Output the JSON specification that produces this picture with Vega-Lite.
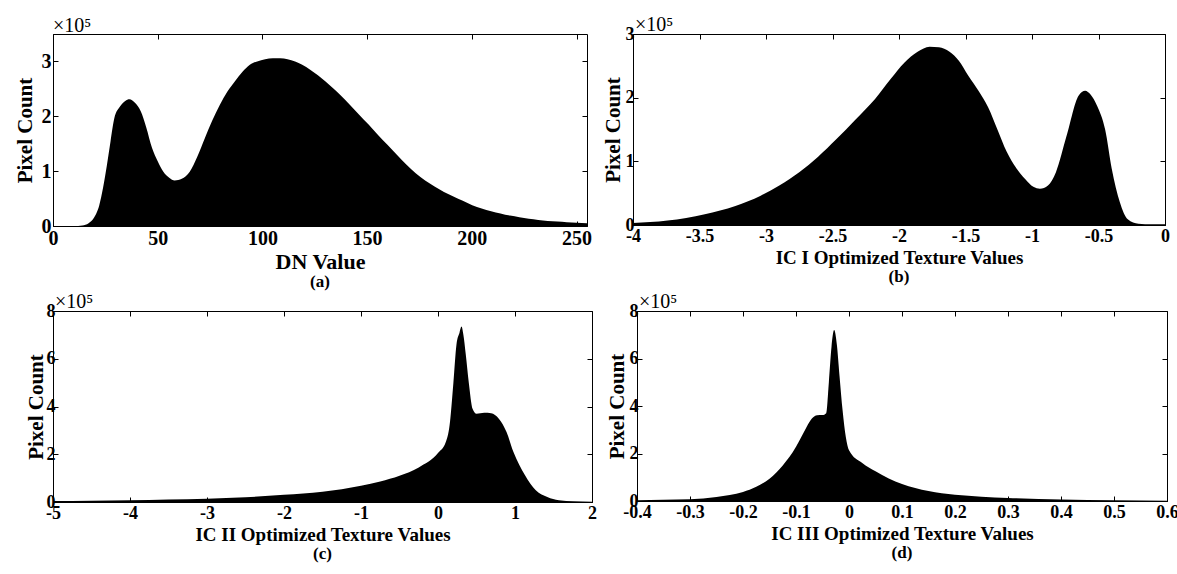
{
  "$schema": "https://vega.github.io/schema/vega-lite/v6.json",
  "background": "white",
  "padding": {"left": 13, "top": 14, "right": 0, "bottom": 0},
  "datasets": {
    "a": [
      {"x": 0, "y": 0}, {"x": 10, "y": 0}, {"x": 14, "y": 0.01}, {"x": 17, "y": 0.05}, {"x": 19.4, "y": 0.14},
      {"x": 22.1, "y": 0.38}, {"x": 25.7, "y": 1.1}, {"x": 27.5, "y": 1.55}, {"x": 29.3, "y": 1.97}, {"x": 32, "y": 2.18},
      {"x": 34.5, "y": 2.28}, {"x": 36.5, "y": 2.31}, {"x": 39, "y": 2.25}, {"x": 41.9, "y": 2.09}, {"x": 44.5, "y": 1.8},
      {"x": 47.3, "y": 1.42}, {"x": 50, "y": 1.18}, {"x": 52.7, "y": 0.99}, {"x": 55.5, "y": 0.88}, {"x": 58.1, "y": 0.83},
      {"x": 61.5, "y": 0.86}, {"x": 65.3, "y": 0.99}, {"x": 69, "y": 1.27}, {"x": 72.5, "y": 1.6}, {"x": 76, "y": 1.92},
      {"x": 79.7, "y": 2.21}, {"x": 83.3, "y": 2.45}, {"x": 86.9, "y": 2.64}, {"x": 90.5, "y": 2.81}, {"x": 94, "y": 2.94},
      {"x": 97.5, "y": 3.0}, {"x": 101.3, "y": 3.04}, {"x": 105, "y": 3.06}, {"x": 108.5, "y": 3.06}, {"x": 112, "y": 3.04},
      {"x": 115.6, "y": 3.0}, {"x": 119, "y": 2.94}, {"x": 122.8, "y": 2.85}, {"x": 126.5, "y": 2.75}, {"x": 130, "y": 2.64},
      {"x": 133.5, "y": 2.52}, {"x": 137.2, "y": 2.39}, {"x": 141.5, "y": 2.22}, {"x": 146.2, "y": 2.03}, {"x": 150.7, "y": 1.85},
      {"x": 155.2, "y": 1.66}, {"x": 159.7, "y": 1.48}, {"x": 164.2, "y": 1.3}, {"x": 168.7, "y": 1.12}, {"x": 173.2, "y": 0.96},
      {"x": 177.7, "y": 0.83}, {"x": 182.2, "y": 0.72}, {"x": 186.7, "y": 0.62}, {"x": 191.2, "y": 0.54}, {"x": 195.7, "y": 0.46},
      {"x": 200.2, "y": 0.38}, {"x": 204.7, "y": 0.32}, {"x": 209.2, "y": 0.27}, {"x": 213.7, "y": 0.23}, {"x": 218.2, "y": 0.19},
      {"x": 222.7, "y": 0.16}, {"x": 227.2, "y": 0.13}, {"x": 231.7, "y": 0.11}, {"x": 236.2, "y": 0.09}, {"x": 240.8, "y": 0.08},
      {"x": 245.3, "y": 0.07}, {"x": 250, "y": 0.06}, {"x": 255, "y": 0.05}
    ],
    "b": [
      {"x": -4, "y": 0.03}, {"x": -3.74, "y": 0.07}, {"x": -3.46, "y": 0.17}, {"x": -3.23, "y": 0.3}, {"x": -3.04, "y": 0.46},
      {"x": -2.9, "y": 0.62}, {"x": -2.75, "y": 0.83}, {"x": -2.61, "y": 1.07}, {"x": -2.47, "y": 1.35}, {"x": -2.33, "y": 1.65},
      {"x": -2.18, "y": 1.98}, {"x": -2.06, "y": 2.3}, {"x": -1.96, "y": 2.55}, {"x": -1.86, "y": 2.72}, {"x": -1.77, "y": 2.8},
      {"x": -1.7, "y": 2.79}, {"x": -1.62, "y": 2.72}, {"x": -1.55, "y": 2.58}, {"x": -1.48, "y": 2.35}, {"x": -1.4, "y": 2.1},
      {"x": -1.33, "y": 1.85}, {"x": -1.26, "y": 1.5}, {"x": -1.19, "y": 1.15}, {"x": -1.12, "y": 0.9}, {"x": -1.05, "y": 0.72},
      {"x": -0.99, "y": 0.6}, {"x": -0.94, "y": 0.57}, {"x": -0.88, "y": 0.62}, {"x": -0.82, "y": 0.83}, {"x": -0.74, "y": 1.4},
      {"x": -0.65, "y": 2.03}, {"x": -0.6, "y": 2.11}, {"x": -0.56, "y": 2.05}, {"x": -0.51, "y": 1.87}, {"x": -0.45, "y": 1.5},
      {"x": -0.4, "y": 0.88}, {"x": -0.34, "y": 0.36}, {"x": -0.28, "y": 0.09}, {"x": -0.2, "y": 0.02}, {"x": -0.1, "y": 0.01},
      {"x": 0, "y": 0.01}
    ],
    "c": [
      {"x": -5, "y": 0.04}, {"x": -4.5, "y": 0.05}, {"x": -4, "y": 0.07}, {"x": -3.5, "y": 0.1}, {"x": -3, "y": 0.14},
      {"x": -2.5, "y": 0.2}, {"x": -2, "y": 0.3}, {"x": -1.5, "y": 0.43}, {"x": -1, "y": 0.68}, {"x": -0.75, "y": 0.86},
      {"x": -0.5, "y": 1.1}, {"x": -0.25, "y": 1.45}, {"x": 0, "y": 2.05}, {"x": 0.1, "y": 2.5}, {"x": 0.15, "y": 3.2},
      {"x": 0.2, "y": 5.0}, {"x": 0.24, "y": 6.6}, {"x": 0.28, "y": 7.1}, {"x": 0.305, "y": 7.35}, {"x": 0.33, "y": 7.0},
      {"x": 0.36, "y": 6.2}, {"x": 0.4, "y": 5.0}, {"x": 0.45, "y": 3.9}, {"x": 0.5, "y": 3.7}, {"x": 0.6, "y": 3.74},
      {"x": 0.69, "y": 3.72}, {"x": 0.79, "y": 3.49}, {"x": 0.89, "y": 2.93}, {"x": 0.98, "y": 2.09}, {"x": 1.13, "y": 1.12},
      {"x": 1.27, "y": 0.49}, {"x": 1.42, "y": 0.21}, {"x": 1.57, "y": 0.07}, {"x": 1.76, "y": 0.03}, {"x": 2, "y": 0.01}
    ],
    "d": [
      {"x": -0.4, "y": 0.03}, {"x": -0.35, "y": 0.05}, {"x": -0.3, "y": 0.07}, {"x": -0.25, "y": 0.17}, {"x": -0.2, "y": 0.38},
      {"x": -0.175, "y": 0.6}, {"x": -0.15, "y": 0.94}, {"x": -0.125, "y": 1.5}, {"x": -0.1, "y": 2.28}, {"x": -0.09, "y": 2.7},
      {"x": -0.08, "y": 3.12}, {"x": -0.07, "y": 3.47}, {"x": -0.06, "y": 3.61}, {"x": -0.05, "y": 3.62}, {"x": -0.043, "y": 3.7},
      {"x": -0.038, "y": 5.0}, {"x": -0.033, "y": 6.5}, {"x": -0.028, "y": 7.2}, {"x": -0.023, "y": 6.6}, {"x": -0.018, "y": 5.3},
      {"x": -0.012, "y": 3.8}, {"x": -0.006, "y": 2.7}, {"x": 0, "y": 2.14}, {"x": 0.025, "y": 1.6}, {"x": 0.05, "y": 1.25},
      {"x": 0.075, "y": 0.95}, {"x": 0.1, "y": 0.72}, {"x": 0.15, "y": 0.42}, {"x": 0.2, "y": 0.26}, {"x": 0.25, "y": 0.18},
      {"x": 0.3, "y": 0.13}, {"x": 0.4, "y": 0.06}, {"x": 0.5, "y": 0.03}, {"x": 0.6, "y": 0.01}
    ],
    "mult": [{"t": "×10⁵"}]
  },
  "vconcat": [
    {
      "hconcat": [
        {
          "width": 534, "height": 192,
          "title": {"text": "(a)", "orient": "bottom", "fontSize": 17, "fontWeight": "bold", "font": "Liberation Serif", "offset": 2},
          "layer": [
            {"data": {"name": "a"}, "mark": {"type": "area", "color": "black", "interpolate": "monotone"},
             "encoding": {
               "x": {"field": "x", "type": "quantitative", "scale": {"domain": [0, 255], "nice": false, "zero": false},
                     "axis": {"orient": "bottom", "values": [0, 50, 100, 150, 200, 250], "title": "DN Value", "labelFontSize": 20, "titleFontSize": 22}},
               "y": {"field": "y", "type": "quantitative", "scale": {"domain": [0, 3.5], "nice": false},
                     "axis": {"orient": "left", "values": [0, 1, 2, 3], "title": "Pixel Count", "labelFontSize": 20, "titleFontSize": 21, "titlePadding": 6}}}},
            {"data": {"name": "a"}, "mark": {"type": "point", "opacity": 0},
             "encoding": {
               "x": {"field": "x", "type": "quantitative", "axis": {"orient": "top", "values": [0, 50, 100, 150, 200, 250], "labels": false, "title": null, "domain": false}},
               "y": {"field": "y", "type": "quantitative", "axis": {"orient": "right", "values": [0, 1, 2, 3], "labels": false, "title": null, "domain": false}}}},
            {"data": {"name": "mult"}, "mark": {"type": "text", "align": "left", "baseline": "alphabetic", "dy": -2, "fontSize": 20, "font": "Liberation Serif"},
             "encoding": {"x": {"datum": 0, "type": "quantitative", "axis": null}, "y": {"datum": 3.5, "type": "quantitative", "axis": null}, "text": {"field": "t"}}}
          ],
          "resolve": {"axis": {"x": "independent", "y": "independent"}}
        },
        {
          "width": 532, "height": 191,
          "title": {"text": "(b)", "orient": "bottom", "fontSize": 17, "fontWeight": "bold", "font": "Liberation Serif", "offset": 2},
          "layer": [
            {"data": {"name": "b"}, "mark": {"type": "area", "color": "black", "interpolate": "monotone"},
             "encoding": {
               "x": {"field": "x", "type": "quantitative", "scale": {"domain": [-4, 0], "nice": false, "zero": false},
                     "axis": {"orient": "bottom", "values": [-4, -3.5, -3, -2.5, -2, -1.5, -1, -0.5, 0], "title": "IC I Optimized Texture Values", "labelFontSize": 18, "titleFontSize": 19}},
               "y": {"field": "y", "type": "quantitative", "scale": {"domain": [0, 3], "nice": false},
                     "axis": {"orient": "left", "values": [0, 1, 2, 3], "title": "Pixel Count", "labelFontSize": 18, "titleFontSize": 21, "titlePadding": 2, "labelPadding": 4}}}},
            {"data": {"name": "b"}, "mark": {"type": "point", "opacity": 0},
             "encoding": {
               "x": {"field": "x", "type": "quantitative", "axis": {"orient": "top", "values": [-4, -3.5, -3, -2.5, -2, -1.5, -1, -0.5, 0], "labels": false, "title": null, "domain": false}},
               "y": {"field": "y", "type": "quantitative", "axis": {"orient": "right", "values": [0, 1, 2, 3], "labels": false, "title": null, "domain": false}}}},
            {"data": {"name": "mult"}, "mark": {"type": "text", "align": "left", "baseline": "alphabetic", "dy": -3, "dx": 2, "fontSize": 20, "font": "Liberation Serif"},
             "encoding": {"x": {"datum": -4, "type": "quantitative", "axis": null}, "y": {"datum": 3, "type": "quantitative", "axis": null}, "text": {"field": "t"}}}
          ],
          "resolve": {"axis": {"x": "independent", "y": "independent"}}
        }
      ]
    },
    {
      "hconcat": [
        {
          "width": 539, "height": 191,
          "title": {"text": "(c)", "orient": "bottom", "fontSize": 17, "fontWeight": "bold", "font": "Liberation Serif", "offset": 2},
          "layer": [
            {"data": {"name": "c"}, "mark": {"type": "area", "color": "black", "interpolate": "monotone"},
             "encoding": {
               "x": {"field": "x", "type": "quantitative", "scale": {"domain": [-5, 2], "nice": false, "zero": false},
                     "axis": {"orient": "bottom", "values": [-5, -4, -3, -2, -1, 0, 1, 2], "title": "IC II Optimized Texture Values", "labelFontSize": 18, "titleFontSize": 19}},
               "y": {"field": "y", "type": "quantitative", "scale": {"domain": [0, 8], "nice": false},
                     "axis": {"orient": "left", "values": [0, 2, 4, 6, 8], "title": "Pixel Count", "labelFontSize": 18, "titleFontSize": 21, "titlePadding": 0, "labelPadding": 3}}}},
            {"data": {"name": "c"}, "mark": {"type": "point", "opacity": 0},
             "encoding": {
               "x": {"field": "x", "type": "quantitative", "axis": {"orient": "top", "values": [-5, -4, -3, -2, -1, 0, 1, 2], "labels": false, "title": null, "domain": false}},
               "y": {"field": "y", "type": "quantitative", "axis": {"orient": "right", "values": [0, 2, 4, 6, 8], "labels": false, "title": null, "domain": false}}}},
            {"data": {"name": "mult"}, "mark": {"type": "text", "align": "left", "baseline": "alphabetic", "dy": -3, "dx": 2, "fontSize": 20, "font": "Liberation Serif"},
             "encoding": {"x": {"datum": -5, "type": "quantitative", "axis": null}, "y": {"datum": 8, "type": "quantitative", "axis": null}, "text": {"field": "t"}}}
          ],
          "resolve": {"axis": {"x": "independent", "y": "independent"}}
        },
        {
          "width": 530, "height": 190,
          "title": {"text": "(d)", "orient": "bottom", "fontSize": 17, "fontWeight": "bold", "font": "Liberation Serif", "offset": 2},
          "layer": [
            {"data": {"name": "d"}, "mark": {"type": "area", "color": "black", "interpolate": "monotone"},
             "encoding": {
               "x": {"field": "x", "type": "quantitative", "scale": {"domain": [-0.4, 0.6], "nice": false, "zero": false},
                     "axis": {"orient": "bottom", "values": [-0.4, -0.3, -0.2, -0.1, 0, 0.1, 0.2, 0.3, 0.4, 0.5, 0.6], "title": "IC III Optimized Texture Values", "labelFontSize": 18, "titleFontSize": 19}},
               "y": {"field": "y", "type": "quantitative", "scale": {"domain": [0, 8], "nice": false},
                     "axis": {"orient": "left", "values": [0, 2, 4, 6, 8], "title": "Pixel Count", "labelFontSize": 18, "titleFontSize": 21, "titlePadding": 2, "labelPadding": 4}}}},
            {"data": {"name": "d"}, "mark": {"type": "point", "opacity": 0},
             "encoding": {
               "x": {"field": "x", "type": "quantitative", "axis": {"orient": "top", "values": [-0.4, -0.3, -0.2, -0.1, 0, 0.1, 0.2, 0.3, 0.4, 0.5, 0.6], "labels": false, "title": null, "domain": false}},
               "y": {"field": "y", "type": "quantitative", "axis": {"orient": "right", "values": [0, 2, 4, 6, 8], "labels": false, "title": null, "domain": false}}}},
            {"data": {"name": "mult"}, "mark": {"type": "text", "align": "left", "baseline": "alphabetic", "dy": -3, "dx": 2, "fontSize": 20, "font": "Liberation Serif"},
             "encoding": {"x": {"datum": -0.4, "type": "quantitative", "axis": null}, "y": {"datum": 8, "type": "quantitative", "axis": null}, "text": {"field": "t"}}}
          ],
          "resolve": {"axis": {"x": "independent", "y": "independent"}}
        }
      ]
    }
  ],
  "spacing": 0,
  "config": {
    "font": "Liberation Serif",
    "view": {"stroke": "black", "strokeWidth": 1},
    "concat": {"spacing": 8},
    "axis": {
      "grid": false, "domainColor": "black", "tickColor": "black", "tickSize": -5,
      "labelColor": "black", "titleColor": "black", "labelFont": "Liberation Serif", "titleFont": "Liberation Serif",
      "labelFontWeight": "bold", "titleFontWeight": "bold", "labelPadding": 7, "titlePadding": 3,
      "format": "~r", "labelFlush": false, "labelOverlap": false
    },
    "locale": {"number": {"decimal": ".", "thousands": ",", "grouping": [3], "currency": ["$", ""], "minus": "-"}}
  }
}
